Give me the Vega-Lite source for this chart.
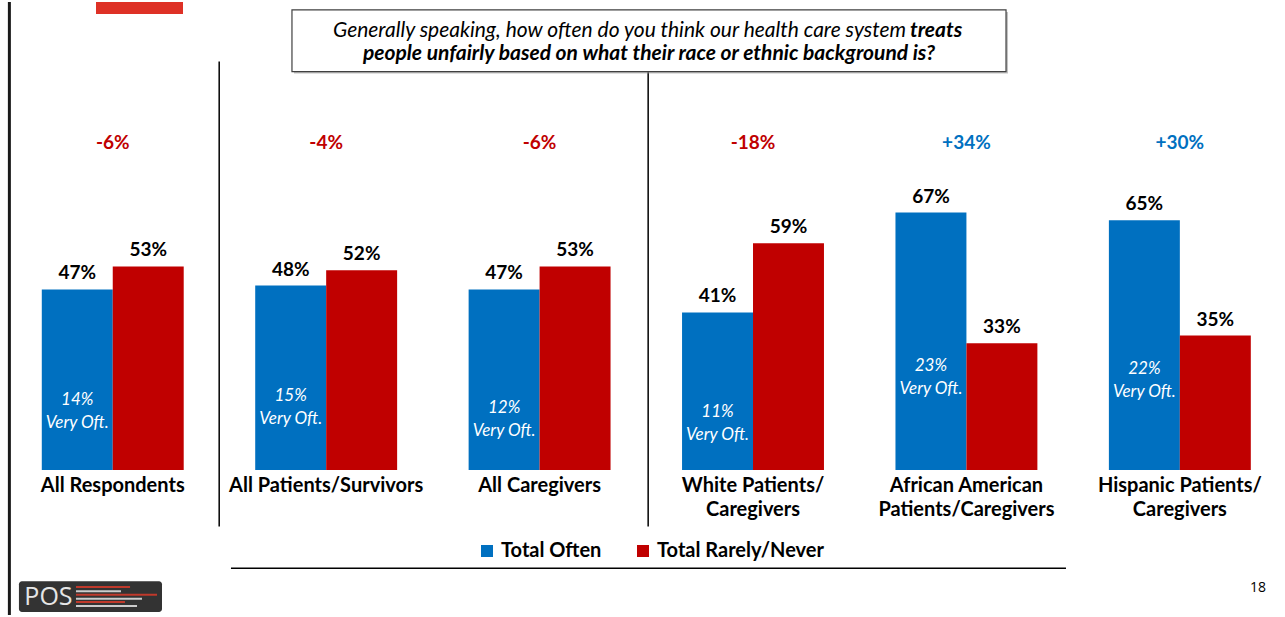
{
  "$schema": "https://vega.github.io/schema/vega-lite/v6.json",
  "width": 1285,
  "height": 617,
  "autosize": {"type": "fit", "contains": "padding"},
  "padding": 0,
  "background": "white",
  "config": {"view": {"stroke": null}, "font": "Lato"},
  "data": {"values": [{}]},
  "datasets": {
    "bars": [
      {"group": "All Respondents", "series": "Total Often", "value": 0.47},
      {"group": "All Respondents", "series": "Total Rarely/Never", "value": 0.53},
      {"group": "All Patients/Survivors", "series": "Total Often", "value": 0.48},
      {"group": "All Patients/Survivors", "series": "Total Rarely/Never", "value": 0.52},
      {"group": "All Caregivers", "series": "Total Often", "value": 0.47},
      {"group": "All Caregivers", "series": "Total Rarely/Never", "value": 0.53},
      {"group": "White Patients/Caregivers", "series": "Total Often", "value": 0.41},
      {"group": "White Patients/Caregivers", "series": "Total Rarely/Never", "value": 0.59},
      {"group": "African American Patients/Caregivers", "series": "Total Often", "value": 0.67},
      {"group": "African American Patients/Caregivers", "series": "Total Rarely/Never", "value": 0.33},
      {"group": "Hispanic Patients/Caregivers", "series": "Total Often", "value": 0.65},
      {"group": "Hispanic Patients/Caregivers", "series": "Total Rarely/Never", "value": 0.35}
    ],
    "groups": [
      {"group": "All Respondents", "label": "All Respondents", "veryOften": 0.14, "diff": "-6%"},
      {"group": "All Patients/Survivors", "label": "All Patients/Survivors", "veryOften": 0.15, "diff": "-4%"},
      {"group": "All Caregivers", "label": "All Caregivers", "veryOften": 0.12, "diff": "-6%"},
      {"group": "White Patients/Caregivers", "label": "White Patients/\nCaregivers", "veryOften": 0.11, "diff": "-18%"},
      {"group": "African American Patients/Caregivers", "label": "African American\nPatients/Caregivers", "veryOften": 0.23, "diff": "+34%"},
      {"group": "Hispanic Patients/Caregivers", "label": "Hispanic Patients/\nCaregivers", "veryOften": 0.22, "diff": "+30%"}
    ]
  },
  "layer": [
    {
      "data": {"name": "bars"},
      "mark": {"type": "bar"},
      "encoding": {
        "x": {
          "field": "group", "type": "nominal",
          "scale": {
            "domain": ["All Respondents", "All Patients/Survivors", "All Caregivers", "White Patients/Caregivers", "African American Patients/Caregivers", "Hispanic Patients/Caregivers"],
            "paddingInner": 0.335, "paddingOuter": 0.178, "align": 0.55
          },
          "axis": null
        },
        "xOffset": {"field": "series", "type": "nominal", "scale": {"paddingInner": 0, "paddingOuter": 0}},
        "y": {
          "field": "value", "type": "quantitative", "stack": null,
          "scale": {"domain": [-0.3777, 1.2184], "nice": false, "zero": false},
          "axis": null
        },
        "y2": {"datum": 0},
        "color": {
          "field": "series", "type": "nominal",
          "scale": {"domain": ["Total Often", "Total Rarely/Never"], "range": ["#0070C0", "#C00000"]},
          "legend": {
            "orient": "none", "legendX": 477, "legendY": 539, "direction": "horizontal",
            "title": null, "symbolType": "square", "symbolSize": 144, "symbolStrokeWidth": 0,
            "labelFont": "Lato", "labelFontWeight": "bold", "labelFontSize": 20, "labelColor": "#000000",
            "labelOffset": 4, "labelLimit": 400, "columnPadding": 31, "padding": 0
          }
        }
      }
    },
    {
      "data": {"name": "bars"},
      "mark": {"type": "text", "baseline": "alphabetic", "dy": -10, "font": "Lato", "fontWeight": "bold", "fontSize": 19, "color": "#000000"},
      "encoding": {
        "x": {"field": "group", "type": "nominal"},
        "xOffset": {"field": "series", "type": "nominal"},
        "y": {"field": "value", "type": "quantitative"},
        "text": {"field": "value", "type": "quantitative", "format": ".0%"}
      }
    },
    {
      "data": {"name": "groups"},
      "mark": {"type": "text", "baseline": "middle", "dy": -16, "font": "Lato", "fontStyle": "italic", "fontSize": 17, "color": "#FFFFFF"},
      "encoding": {
        "x": {"field": "group", "type": "nominal"},
        "xOffset": {"datum": "Total Often"},
        "y": {"field": "veryOften", "type": "quantitative"},
        "text": {"field": "veryOften", "type": "quantitative", "format": ".0%"}
      }
    },
    {
      "data": {"name": "groups"},
      "mark": {"type": "text", "baseline": "middle", "dy": 7, "font": "Lato", "fontStyle": "italic", "fontSize": 17, "color": "#FFFFFF"},
      "encoding": {
        "x": {"field": "group", "type": "nominal"},
        "xOffset": {"datum": "Total Often"},
        "y": {"field": "veryOften", "type": "quantitative"},
        "text": {"value": "Very Oft."}
      }
    },
    {
      "data": {"name": "groups"},
      "mark": {"type": "text", "baseline": "alphabetic", "font": "Lato", "fontWeight": "bold", "fontSize": 19},
      "encoding": {
        "x": {"field": "group", "type": "nominal", "bandPosition": 0.5},
        "y": {"datum": 0.8356},
        "text": {"field": "diff"},
        "color": {"condition": {"test": "indexof(datum.diff, '+') == 0", "value": "#0070C0"}, "value": "#C00000"}
      }
    },
    {
      "data": {"name": "groups"},
      "mark": {"type": "text", "baseline": "alphabetic", "lineBreak": "\n", "lineHeight": 24, "font": "Lato", "fontWeight": "bold", "fontSize": 20, "color": "#000000"},
      "encoding": {
        "x": {"field": "group", "type": "nominal", "bandPosition": 0.5},
        "y": {"datum": -0.0569},
        "text": {"field": "label"}
      }
    },
    {
      "mark": {"type": "rule", "color": "#000000", "strokeWidth": 1.5},
      "encoding": {
        "x": {"datum": "All Respondents", "bandPosition": 1.25},
        "y": {"datum": 1.0632},
        "y2": {"datum": -0.1475}
      }
    },
    {
      "mark": {"type": "rule", "color": "#000000", "strokeWidth": 1.5},
      "encoding": {
        "x": {"datum": "All Caregivers", "bandPosition": 1.265},
        "y": {"datum": 1.0373},
        "y2": {"datum": -0.1475}
      }
    },
    {
      "mark": {"type": "rect", "fill": "#9A9A9A", "opacity": 0.6},
      "encoding": {
        "x": {"datum": "All Patients/Survivors", "bandPosition": 0.273},
        "x2": {"datum": "African American Patients/Caregivers", "bandPosition": 0.793},
        "y": {"datum": 1.1925},
        "y2": {"datum": 1.0321}
      }
    },
    {
      "mark": {"type": "rect", "fill": "#FFFFFF", "stroke": "#404040", "strokeWidth": 1.2},
      "encoding": {
        "x": {"datum": "All Patients/Survivors", "bandPosition": 0.259},
        "x2": {"datum": "African American Patients/Caregivers", "bandPosition": 0.779},
        "y": {"datum": 1.1977},
        "y2": {"datum": 1.0373}
      }
    },
    {
      "mark": {"type": "text", "align": "right", "baseline": "alphabetic", "font": "Lato", "fontStyle": "italic", "fontSize": 21, "color": "#000000"},
      "encoding": {
        "x": {"datum": "African American Patients/Caregivers", "bandPosition": 0.074},
        "y": {"datum": 1.1279},
        "text": {"value": "Generally speaking, how often do you think our health care system"}
      }
    },
    {
      "mark": {"type": "text", "align": "left", "baseline": "alphabetic", "font": "Lato", "fontStyle": "italic", "fontWeight": "bold", "fontSize": 21, "color": "#000000"},
      "encoding": {
        "x": {"datum": "African American Patients/Caregivers", "bandPosition": 0.102},
        "y": {"datum": 1.1279},
        "text": {"value": "treats"}
      }
    },
    {
      "mark": {"type": "text", "align": "center", "baseline": "alphabetic", "font": "Lato", "fontStyle": "italic", "fontWeight": "bold", "fontSize": 21, "color": "#000000"},
      "encoding": {
        "x": {"datum": "All Caregivers", "bandPosition": 1.271},
        "y": {"datum": 1.0684},
        "text": {"value": "people unfairly based on what their race or ethnic background is?"}
      }
    },
    {
      "mark": {"type": "rule", "color": "#000000", "strokeWidth": 1.5},
      "encoding": {
        "x": {"datum": "All Respondents", "bandPosition": 1.333},
        "x2": {"datum": "African American Patients/Caregivers", "bandPosition": 1.2015},
        "y": {"datum": -0.2561}
      }
    },
    {
      "mark": {"type": "rule", "color": "#1A1A1A", "strokeWidth": 3},
      "encoding": {
        "x": {"datum": "All Respondents", "bandPosition": -0.2283},
        "y": {"datum": 1.2184},
        "y2": {"datum": -0.3777}
      }
    },
    {
      "mark": {"type": "rect", "fill": "#DE3126"},
      "encoding": {
        "x": {"datum": "All Respondents", "bandPosition": 0.382},
        "x2": {"datum": "All Respondents", "bandPosition": 0.995},
        "y": {"datum": 1.2184},
        "y2": {"datum": 1.1874}
      }
    },
    {
      "mark": {"type": "rect", "fill": "#333333", "cornerRadius": 3},
      "encoding": {
        "x": {"datum": "All Respondents", "bandPosition": -0.161},
        "x2": {"datum": "All Respondents", "bandPosition": 0.847},
        "y": {"datum": -0.2897},
        "y2": {"datum": -0.3699}
      }
    },
    {
      "mark": {"type": "text", "align": "center", "baseline": "middle", "font": "Open Sans", "fontSize": 25, "color": "#E6E6E6"},
      "encoding": {
        "x": {"datum": "All Respondents", "bandPosition": 0.047},
        "y": {"datum": -0.3311},
        "text": {"value": "POS"}
      }
    },
    {
      "mark": {"type": "rule", "color": "#C0392B", "strokeWidth": 2},
      "encoding": {
        "x": {"datum": "All Respondents", "bandPosition": 0.241},
        "x2": {"datum": "All Respondents", "bandPosition": 0.622},
        "y": {"datum": -0.3045}
      }
    },
    {
      "mark": {"type": "rule", "color": "#CCCCCC", "strokeWidth": 2},
      "encoding": {
        "x": {"datum": "All Respondents", "bandPosition": 0.241},
        "x2": {"datum": "All Respondents", "bandPosition": 0.558},
        "y": {"datum": -0.3156}
      }
    },
    {
      "mark": {"type": "rule", "color": "#C0392B", "strokeWidth": 2},
      "encoding": {
        "x": {"datum": "All Respondents", "bandPosition": 0.241},
        "x2": {"datum": "All Respondents", "bandPosition": 0.812},
        "y": {"datum": -0.3252}
      }
    },
    {
      "mark": {"type": "rule", "color": "#CCCCCC", "strokeWidth": 2},
      "encoding": {
        "x": {"datum": "All Respondents", "bandPosition": 0.241},
        "x2": {"datum": "All Respondents", "bandPosition": 0.706},
        "y": {"datum": -0.3355}
      }
    },
    {
      "mark": {"type": "rule", "color": "#C0392B", "strokeWidth": 2},
      "encoding": {
        "x": {"datum": "All Respondents", "bandPosition": 0.241},
        "x2": {"datum": "All Respondents", "bandPosition": 0.586},
        "y": {"datum": -0.3441}
      }
    },
    {
      "mark": {"type": "rule", "color": "#CCCCCC", "strokeWidth": 2},
      "encoding": {
        "x": {"datum": "All Respondents", "bandPosition": 0.241},
        "x2": {"datum": "All Respondents", "bandPosition": 0.671},
        "y": {"datum": -0.3544}
      }
    },
    {
      "mark": {"type": "text", "align": "center", "baseline": "middle", "font": "Open Sans", "fontSize": 14, "color": "#000000"},
      "encoding": {
        "x": {"datum": "Hispanic Patients/Caregivers", "bandPosition": 1.051},
        "y": {"datum": -0.3078},
        "text": {"value": "18"}
      }
    }
  ]
}
